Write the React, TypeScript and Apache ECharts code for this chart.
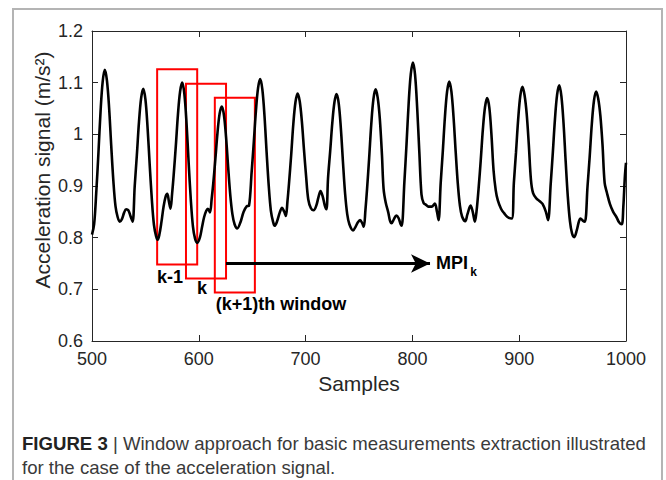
import React, { useEffect, useRef } from "react";
import * as echarts from "echarts";

// ---- data ----
const samples: number[] = [
  500, 502, 504, 506, 508, 510, 512, 514, 516, 518, 520, 522, 524, 526, 528, 530, 532, 534, 536, 538,
  540, 542, 544, 546, 548, 550, 552, 554, 556, 558, 560, 561.5, 563, 565, 567, 569, 570.5, 572, 573.5,
  575, 576.5, 578.5, 580.5, 582.5, 584.5, 586.5, 588.5, 590.5, 592.5, 594.5, 596.5, 598.5,
  601, 603, 605, 607, 608.5, 610.5,
  612, 613.5, 615.5, 617.5, 619.5, 621.5, 623.5, 625.5, 627.5, 629.5, 631.5, 633.5, 636,
  639, 642, 645, 647,
  649.5, 651.5, 653.5, 655.5, 657.5, 659.5, 661.5, 663.5, 665.5, 667.5, 669.5, 671,
  673, 676, 678, 680, 681.5,
  683, 684.5, 686.5, 688.5, 690.5, 692.5, 694.5, 696.5, 698.5, 700.5, 702.5, 705, 707.5, 710, 712, 714, 716, 718, 719.5,
  721, 723, 725, 727, 729, 731, 733, 735, 737, 739, 741, 744.5,
  747, 749, 751, 753, 754.5,
  756, 757.5, 759.5, 761.5, 763.5, 765.5, 767.5, 769.5, 771.5, 773, 775, 777.5, 779, 780.5, 782.5, 785, 787, 789, 790,
  792.5, 794.5, 796.5, 798.5, 800.5, 802.5, 804.5, 806.5, 808.5, 810.5, 812.5, 815, 818, 821, 823, 824.5,
  826.5, 828.5, 830.5, 832.5, 834.5, 836.5, 838.5, 840.5, 842.5, 844.5, 846.5, 849.5, 851.5, 854.5, 856.5, 858.5,
  860, 862, 864, 866, 868, 870, 872, 874, 876, 878, 880, 883, 886, 889, 893,
  895, 897, 899, 901, 903, 905, 907, 909, 911, 913, 916, 919.5, 922, 925, 927,
  929.5, 931.5, 933.5, 935.5, 937.5, 939.5, 941.5, 943.5, 945.5, 947.5, 949.5, 951.5, 954, 956, 957.5, 959.5, 961.5,
  964, 966, 968, 970, 972, 974, 976, 978, 980, 982, 985, 988, 991, 993.5, 996, 997.5, 999, 1000,
];

const acceleration: number[] = [
  0.806, 0.826, 0.888, 0.963, 1.044, 1.102, 1.125, 1.104, 1.052, 0.978, 0.91, 0.861, 0.84, 0.831, 0.836, 0.848, 0.855, 0.853, 0.842, 0.831,
  0.9, 0.96, 1.024, 1.07, 1.088, 1.068, 1.014, 0.942, 0.875, 0.825, 0.803, 0.796, 0.805, 0.83, 0.86, 0.88, 0.885, 0.87, 0.856,
  0.885, 0.922, 0.978, 1.039, 1.083, 1.1, 1.078, 1.022, 0.945, 0.874, 0.822, 0.798, 0.79,
  0.8, 0.82, 0.84, 0.852, 0.856, 0.849,
  0.874, 0.904, 0.952, 1.003, 1.04, 1.054, 1.038, 0.995, 0.936, 0.882, 0.845, 0.826, 0.818,
  0.83, 0.85, 0.861, 0.862,
  0.928, 0.985, 1.046, 1.09, 1.107, 1.087, 1.036, 0.965, 0.9, 0.852, 0.831, 0.823,
  0.83, 0.85, 0.858, 0.85, 0.842,
  0.87, 0.906, 0.96, 1.02, 1.062, 1.079, 1.064, 1.025, 0.97, 0.918, 0.874, 0.857, 0.853, 0.862, 0.878, 0.89, 0.88, 0.862, 0.855,
  0.915, 0.967, 1.022, 1.062, 1.078, 1.06, 1.012, 0.946, 0.885, 0.845, 0.826, 0.814,
  0.822, 0.83, 0.834, 0.828, 0.821,
  0.853, 0.893, 0.954, 1.02, 1.068, 1.087, 1.071, 1.03, 0.96, 0.895, 0.868, 0.848, 0.833, 0.828, 0.835, 0.843, 0.838, 0.826, 0.823,
  0.908, 0.981, 1.06, 1.117, 1.139, 1.115, 1.05, 0.965, 0.884, 0.867, 0.864, 0.86, 0.86, 0.866, 0.85, 0.834,
  0.906, 0.968, 1.035, 1.083, 1.102, 1.083, 1.034, 0.967, 0.905, 0.862, 0.841, 0.832, 0.845, 0.862, 0.85, 0.831,
  0.85, 0.896, 0.95, 1.01, 1.053, 1.07, 1.052, 1.0, 0.93, 0.892, 0.872, 0.856, 0.847, 0.84, 0.837,
  0.906, 0.965, 1.028, 1.074, 1.092, 1.076, 1.04, 0.98, 0.912, 0.886, 0.876, 0.87, 0.865, 0.85, 0.834,
  0.904, 0.965, 1.03, 1.077, 1.095, 1.074, 1.022, 0.948, 0.88, 0.832, 0.808, 0.801, 0.815, 0.832, 0.837, 0.833, 0.831,
  0.9, 0.957, 1.02, 1.065, 1.083, 1.069, 1.036, 0.98, 0.906, 0.888, 0.865, 0.85, 0.84, 0.83, 0.826, 0.86, 0.92, 0.945,
];

const xTicks = { min: 500, max: 1000, step: 100 };
const yTicks = { min: 0.6, max: 1.2, step: 0.1 };

// analysis windows (data coordinates)
const windowNames = ["k-1", "k", "(k+1)"];
const windowStart = [561, 588, 615];
const windowEnd = [598.5, 625.5, 652.5];
const windowBottom = [0.748, 0.721, 0.694];
const windowTop = [1.126, 1.098, 1.071];

// text annotations (data coordinates)
const labelTexts = ["k-1", "k", "(k+1)th window", "MPI"];
const labelX = [573, 603, 677, 837];
const labelY = [0.7245, 0.703, 0.671, 0.751];
const subText = "k";
const subX = 857.2;
const subY = 0.7335;

// arrow (data coordinates)
const arrowStart = [625.5, 0.75];
const arrowEnd = [816.5, 0.75];

const captionBold = "FIGURE 3";
const captionLine1 = " | Window approach for basic measurements extraction illustrated";
const captionLine2 = "for the case of the acceleration signal.";

const FONT = "'Liberation Sans', Arial, Helvetica, sans-serif";
const AXIS_COLOR = "#262626";

export default function App() {
  const ref = useRef<HTMLDivElement>(null);

  useEffect(() => {
    document.body.style.margin = "0";
    if (!ref.current) return;
    const chart = echarts.init(ref.current, null, { renderer: "svg" });

    const lineData = samples.map((s, i) => [s, acceleration[i]]);

    const axisCommon = {
      type: "value" as const,
      axisLine: { show: true, lineStyle: { color: AXIS_COLOR, width: 1 } },
      axisTick: { show: true, inside: true, length: 6, lineStyle: { color: AXIS_COLOR, width: 1 } },
      splitLine: { show: false },
    };

    const labelFont = { fontFamily: FONT, fontSize: 18, color: AXIS_COLOR };

    const boldLabel = (text: string, x: number, y: number, size: number) => ({
      name: text,
      coord: [x, y],
      symbol: "rect",
      symbolSize: 1,
      itemStyle: { color: "rgba(0,0,0,0)" },
      label: {
        show: true,
        position: "inside",
        formatter: text,
        fontFamily: FONT,
        fontWeight: "bold",
        fontSize: size,
        color: "#000",
      },
    });

    const option: any = {
      animation: false,
      grid: { left: 92, right: 40, top: 31, bottom: 139, containLabel: false },
      xAxis: [
        {
          ...axisCommon,
          position: "bottom",
          min: xTicks.min,
          max: xTicks.max,
          interval: xTicks.step,
          axisLabel: { ...labelFont, margin: 9, formatter: (v: number) => String(v) },
          name: "Samples",
          nameLocation: "middle",
          nameGap: 31,
          nameTextStyle: { fontFamily: FONT, fontSize: 21, color: AXIS_COLOR },
        },
        {
          ...axisCommon,
          position: "top",
          min: xTicks.min,
          max: xTicks.max,
          interval: xTicks.step,
          axisLabel: { show: false },
        },
      ],
      yAxis: [
        {
          ...axisCommon,
          position: "left",
          min: yTicks.min,
          max: yTicks.max,
          interval: yTicks.step,
          axisLabel: {
            ...labelFont,
            margin: 9,
            formatter: (v: number) => String(Math.round(v * 10) / 10),
          },
        },
        {
          ...axisCommon,
          position: "right",
          min: yTicks.min,
          max: yTicks.max,
          interval: yTicks.step,
          axisLabel: { show: false },
        },
      ],
      series: [
        {
          type: "line",
          data: lineData,
          xAxisIndex: 0,
          yAxisIndex: 0,
          showSymbol: false,
          symbol: "none",
          smooth: 0.35,
          lineStyle: { color: "#000", width: 2.6 },
          z: 2,
        },
        {
          type: "line",
          data: [],
          xAxisIndex: 0,
          yAxisIndex: 0,
          z: 5,
          markArea: {
            silent: true,
            itemStyle: { color: "rgba(0,0,0,0)", borderColor: "#ff0000", borderWidth: 2 },
            label: { show: false },
            data: windowNames.map((n, i) => [
              { name: n, coord: [windowStart[i], windowTop[i]] },
              { coord: [windowEnd[i], windowBottom[i]] },
            ]),
          },
          markLine: {
            silent: true,
            symbol: ["none", "arrow"],
            symbolSize: [14, 19],
            label: { show: false },
            lineStyle: { color: "#000", width: 3, type: "solid" },
            data: [[{ coord: arrowStart }, { coord: arrowEnd }]],
          },
          markPoint: {
            silent: true,
            data: [
              ...labelTexts.map((t, i) => boldLabel(t, labelX[i], labelY[i], 18)),
              boldLabel(subText, subX, subY, 12),
            ],
          },
        },
      ],
      graphic: [
        {
          type: "rect",
          shape: { x: 13, y: 9, width: 649, height: 520 },
          style: { fill: "none", stroke: "#b4b4b4", lineWidth: 2 },
          silent: true,
        },
        {
          type: "text",
          x: 42,
          y: 170,
          rotation: Math.PI / 2,
          style: {
            text: "Acceleration signal (m/s²)",
            fontFamily: FONT,
            fontSize: 21,
            fill: AXIS_COLOR,
            align: "center",
            verticalAlign: "middle",
          },
          silent: true,
        },
        {
          type: "text",
          x: 22,
          y: 443,
          style: {
            text: `{b|${captionBold}}{r|${captionLine1}}`,
            verticalAlign: "middle",
            rich: {
              b: { fontFamily: FONT, fontSize: 18.6, fontWeight: "bold", fill: "#222" },
              r: { fontFamily: FONT, fontSize: 18.6, fill: "#3a3a3a" },
            },
          },
          silent: true,
        },
        {
          type: "text",
          x: 22,
          y: 467,
          style: {
            text: captionLine2,
            fontFamily: FONT,
            fontSize: 18.6,
            fill: "#3a3a3a",
            verticalAlign: "middle",
          },
          silent: true,
        },
      ],
    };

    chart.setOption(option);
    return () => chart.dispose();
  }, []);

  return <div ref={ref} style={{ width: 666, height: 480 }} />;
}
